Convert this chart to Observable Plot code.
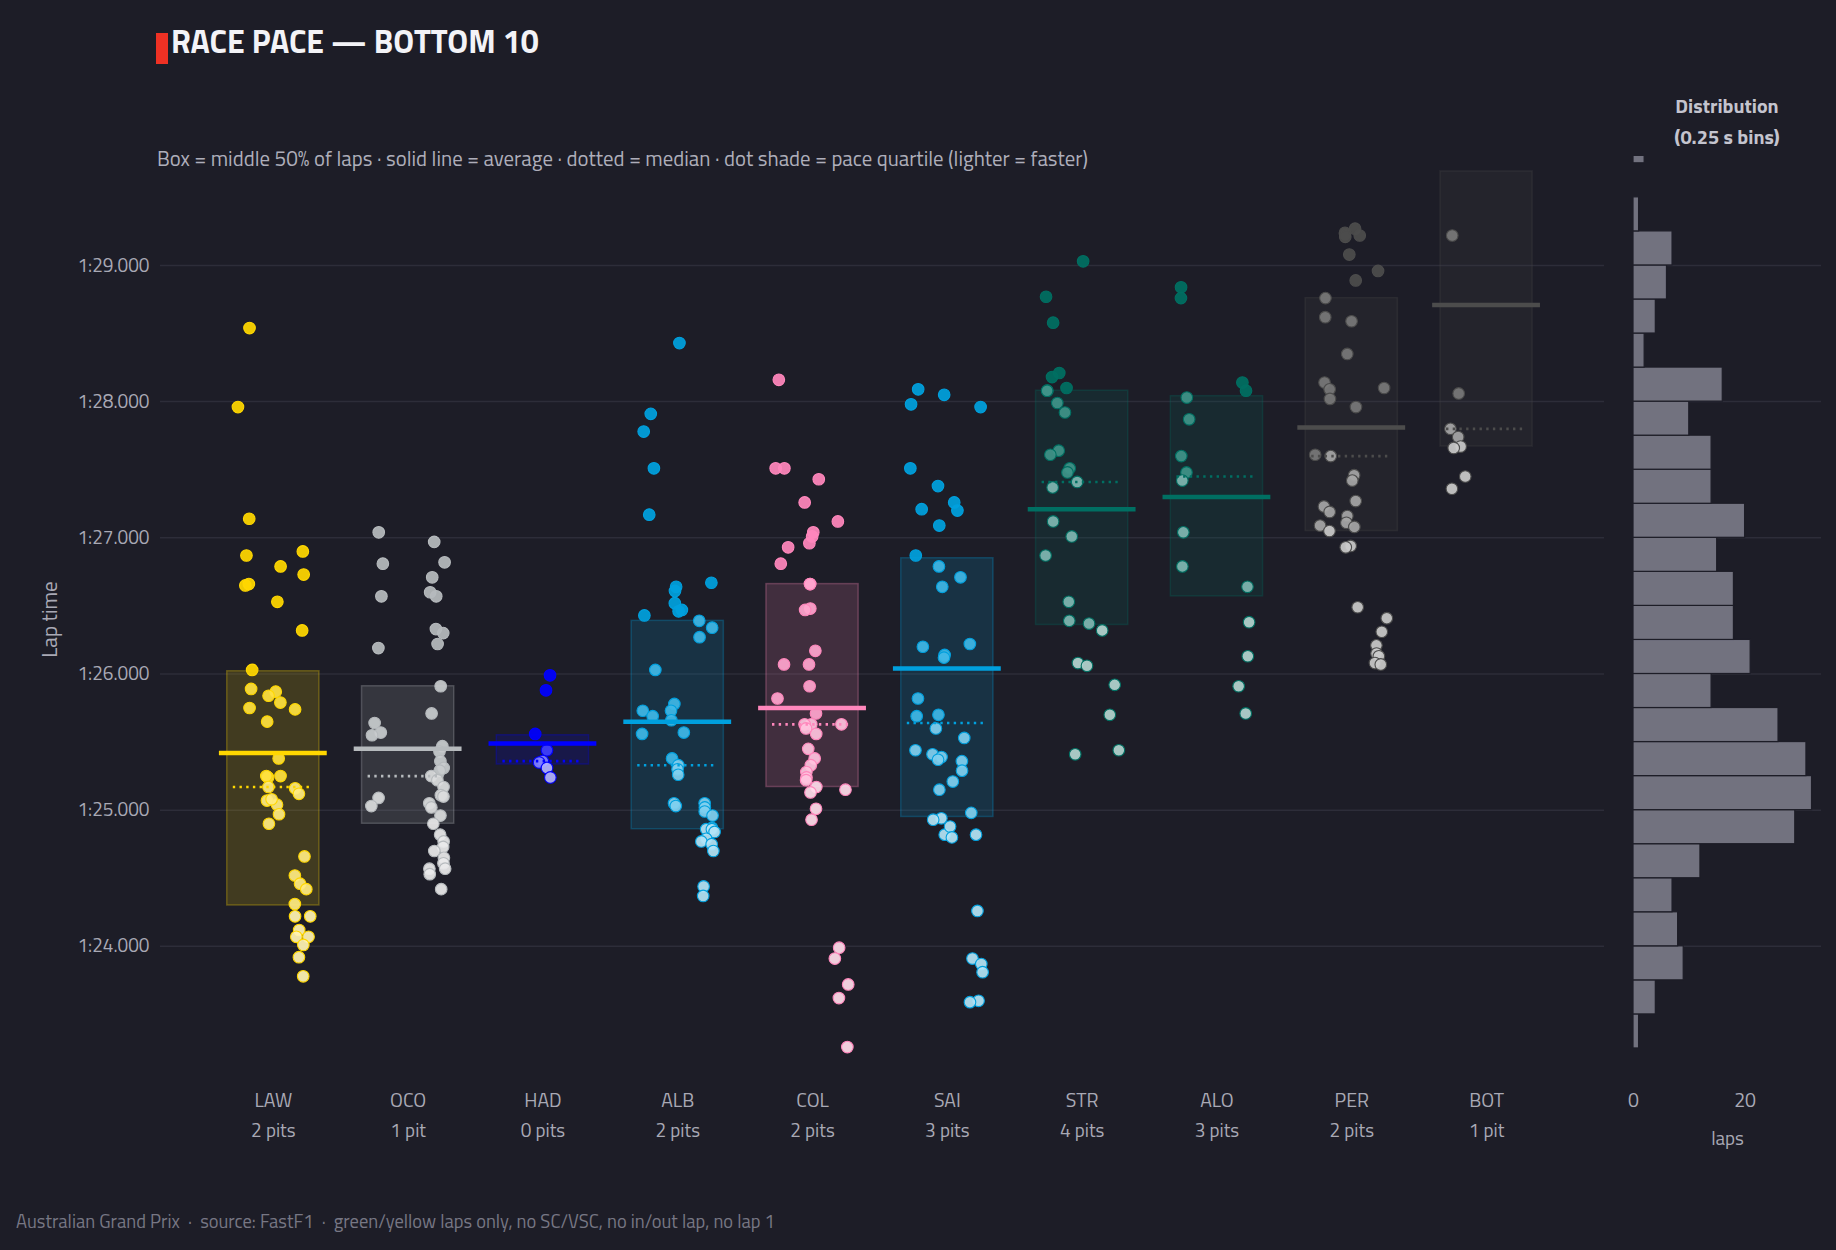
<!DOCTYPE html>
<html lang="en">
<head>
<meta charset="utf-8">
<title>Race pace — bottom 10</title>
<script src="https://cdn.jsdelivr.net/npm/d3@7"></script>
<script src="https://cdn.jsdelivr.net/npm/@observablehq/plot@0.6"></script>
<style>
  html, body { margin: 0; background: #1d1d27; }
  #page { position: relative; width: 1836px; height: 1250px; background: #1d1d27; overflow: hidden;
          font-family: "Titillium Web", "Liberation Sans Narrow", "Roboto Condensed", "Noto Sans", sans-serif; }
  #main { position: absolute; left: 0; top: 0; }
  #hist { position: absolute; left: 1604px; top: 0; }
  #title-bar { position: absolute; left: 156px; top: 33px; width: 12px; height: 31px; background: #ee3124; }
  #title { position: absolute; left: 171px; top: 21px; font-size: 32px; font-weight: 700; color: #f3f3f7; line-height: 40px; white-space: nowrap; }
  #subtitle { position: absolute; left: 157px; top: 146px; font-size: 20.8px; color: #aeaeba; line-height: 24px; white-space: nowrap; }
  #dist { position: absolute; left: 1627px; width: 200px; top: 90px; text-align: center; font-size: 20px; font-weight: 700; color: #c4c4ce; line-height: 31px; }
  #footer { position: absolute; left: 16px; top: 1209px; font-size: 18.5px; color: #777784; white-space: pre; line-height: 24px; }
</style>
</head>
<body>
<div id="page">
  <div id="main"></div>
  <div id="hist"></div>
  <div id="title-bar"></div>
  <div id="title">RACE PACE — BOTTOM 10</div>
  <div id="subtitle">Box = middle 50% of laps · solid line = average · dotted = median · dot shade = pace quartile (lighter = faster)</div>
  <div id="dist">Distribution<br>(0.25 s bins)</div>
  <div id="footer">Australian Grand Prix  ·  source: FastF1  ·  green/yellow laps only, no SC/VSC, no in/out lap, no lap 1</div>
</div>
<script>
// ---- drivers (slowest ten by race pace) ----
const drivers    = ["LAW", "OCO", "HAD", "ALB", "COL", "SAI", "STR", "ALO", "PER", "BOT"];
const pitStops   = [2, 1, 0, 2, 2, 3, 4, 3, 2, 1];
const teamColors = ["#ffd700", "#b6babd", "#0000ff", "#00a0de", "#ff87bc",
                    "#00a0de", "#006f62", "#006f62", "#4c4c4c", "#4c4c4c"];

// ---- clean lap times in seconds, grouped by stint ----
const stintsLAW = [
  [88.54, 87.96, 87.14, 86.87, 86.66, 86.65, 86.03, 85.89, 85.75],
  [86.79, 86.53, 85.87, 85.84, 85.79, 85.65, 85.38, 85.24, 85.25, 85.25, 85.17, 85.04, 85.07, 85.08, 84.97, 84.90],
  [86.90, 86.73, 86.32, 85.74, 85.16, 85.12, 84.66, 84.52, 84.46, 84.42, 84.31, 84.22, 84.22, 84.12, 84.07, 84.07, 84.01, 83.92, 83.78]
];
const stintsOCO = [
  [87.04, 86.81, 86.57, 86.19, 85.64, 85.57, 85.55, 85.09, 85.03],
  [86.97, 86.82, 86.71, 86.60, 86.57, 86.33, 86.30, 86.22, 85.91, 85.71, 85.47, 85.43, 85.36, 85.31, 85.29, 85.25, 85.22,
   85.17, 85.11, 85.10, 85.05, 85.02, 84.96, 84.90, 84.82, 84.77, 84.73, 84.70, 84.65, 84.61, 84.57, 84.57, 84.53, 84.42]
];
const stintsHAD = [
  [85.99, 85.88, 85.56, 85.44, 85.36, 85.35, 85.31, 85.24]
];
const stintsALB = [
  [87.91, 87.78, 87.51, 87.17, 86.43, 86.03, 85.73, 85.69, 85.56],
  [88.43, 86.64, 86.61, 86.52, 86.47, 86.46, 85.78, 85.73, 85.66, 85.57, 85.38, 85.33, 85.30, 85.26, 85.05, 85.03],
  [86.67, 86.39, 86.34, 86.27, 85.05, 85.02, 84.99, 84.96, 84.87, 84.86, 84.86, 84.84, 84.79, 84.77, 84.75, 84.70, 84.44, 84.37]
];
const stintsCOL = [
  [88.16, 87.51, 87.51, 86.93, 86.81, 86.07, 85.82],
  [87.43, 87.26, 87.04, 87.01, 86.96, 86.66, 86.66, 86.48, 86.47, 86.17, 86.07, 85.91, 85.71, 85.63, 85.63, 85.60, 85.56,
   85.45, 85.38, 85.33, 85.28, 85.24, 85.22, 85.17, 85.13, 85.01, 84.93],
  [87.12, 85.63, 85.15, 83.99, 83.91, 83.72, 83.62, 83.26]
];
const stintsSAI = [
  [88.09, 87.98, 87.51, 87.21, 86.87, 86.20, 85.82, 85.69, 85.44],
  [88.05, 87.38, 87.09, 86.79, 86.64, 86.14, 86.12, 85.70, 85.60, 85.41, 85.39, 85.37, 85.15, 84.94, 84.93, 84.82],
  [87.26, 87.20, 86.71, 85.53, 85.36, 85.29, 85.21, 84.88, 84.80],
  [87.96, 86.22, 84.98, 84.82, 84.26, 83.91, 83.87, 83.81, 83.60, 83.59]
];
const stintsSTR = [
  [88.77, 88.58, 88.21, 88.18, 88.08, 88.08, 87.99, 87.64, 87.61, 87.37, 87.12, 86.87],
  [88.10, 87.92, 87.51, 87.48, 87.01, 86.53, 86.39],
  [89.03, 87.41, 86.37, 86.08, 86.06, 85.41],
  [86.32],
  [85.92, 85.70, 85.44]
];
const stintsALO = [
  [88.84, 88.76, 88.03, 87.87, 87.60, 87.48, 87.42, 87.04, 86.79],
  [],
  [],
  [88.14, 88.08, 86.64, 86.38, 86.13, 85.91, 85.71]
];
const stintsPER = [
  [88.76, 88.62, 88.14, 88.09, 88.02, 87.61, 87.60, 87.23, 87.19, 87.09, 87.05],
  [89.27, 89.24, 89.23, 89.22, 89.21, 89.08, 88.89, 88.59, 88.35, 87.96, 87.46, 87.42, 87.27, 87.16, 87.11, 87.08, 86.94, 86.93, 86.49],
  [88.96, 88.10, 86.41, 86.31, 86.21, 86.15, 86.13, 86.08, 86.07]
];
const stintsBOT = [
  [89.22, 88.06, 87.80, 87.74, 87.67, 87.66, 87.45, 87.36],
  []
];

// ---- per-driver summary (seconds) ----
const q1Times     = [84.30, 84.90, 85.335, 84.86, 85.17, 84.95, 86.36, 86.57, 87.05, 87.67];
const medianTimes = [85.17, 85.25, 85.36, 85.33, 85.63, 85.64, 87.41, 87.45, 87.60, 87.80];
const q3Times     = [86.02, 85.91, 85.55, 86.39, 86.66, 86.85, 88.08, 88.04, 88.76, 89.69];
const meanTimes   = [85.42, 85.45, 85.49, 85.65, 85.75, 86.04, 87.21, 87.30, 87.81, 88.71];

// ---- all-driver lap histogram, 0.25 s bins (lower edge, lap count) ----
const binLow  = [83.25, 83.50, 83.75, 84.00, 84.25, 84.50, 84.75, 85.00, 85.25, 85.50, 85.75, 86.00, 86.25, 86.50,
                 86.75, 87.00, 87.25, 87.50, 87.75, 88.00, 88.25, 88.50, 88.75, 89.00, 89.25, 89.50, 89.75];
const binLaps = [1, 4, 9, 8, 7, 12, 29, 32, 31, 26, 14, 21, 18, 18,
                 15, 20, 14, 14, 10, 16, 2, 4, 6, 7, 1, 0, 2];

const yTicks = [84, 85, 86, 87, 88, 89];

// ---------------------------------------------------------------
const FONT = '"Titillium Web", "Liberation Sans Narrow", "Roboto Condensed", "Noto Sans", sans-serif';
const BG = "#1d1d27";
const GRID = "#2d2d39";
const INK = "#a9a9b5";

const lapTimes = [stintsLAW, stintsOCO, stintsHAD, stintsALB, stintsCOL,
                  stintsSAI, stintsSTR, stintsALO, stintsPER, stintsBOT];

const fmtLap = v => {
  const m = Math.floor(v / 60);
  const s = v - m * 60;
  return `${m}:${s.toFixed(3).padStart(6, "0")}`;
};

// quartile shade: slowest quarter in full team colour, faster quarters lighter
const shade = (i, t) => {
  const f = t <= q1Times[i] ? 0.7 : t <= medianTimes[i] ? 0.5 : t <= q3Times[i] ? 0.25 : 0;
  return d3.interpolateRgb(teamColors[i], "#ffffff")(f);
};

// stable pseudo-random jitter so the strip layout is identical on every load
const jitter = k => { const s = Math.sin(k * 127.1 + 311.7) * 43758.5453; return s - Math.floor(s); };

// each stint gets its own column inside the driver's slot
const rows = [];
let k = 0;
lapTimes.forEach((stints, i) => {
  const n = stints.length;
  stints.forEach((times, s) => {
    const col = n === 1 ? 0 : (s / (n - 1) - 0.5) * 0.43;
    times.forEach(t => {
      rows.push({i, t, pos: i + col + (jitter(k++) - 0.5) * 0.12});
    });
  });
});

const idx = d3.range(drivers.length);
const pitLabel = i => `${pitStops[i]} ${pitStops[i] === 1 ? "pit" : "pits"}`;

const main = Plot.plot({
  width: 1620,
  height: 1250,
  marginTop: 156,
  marginBottom: 168,
  marginLeft: 160,
  marginRight: 16,
  style: {background: "transparent", fontFamily: FONT, color: INK, overflow: "visible"},
  x: {type: "linear", domain: [-0.837, 9.875], axis: null},
  y: {domain: [83, 89.8], axis: null},
  color: {type: "identity"},
  marks: [
    Plot.gridY(yTicks, {stroke: GRID, strokeOpacity: 1, strokeWidth: 1.5}),
    Plot.text(yTicks, {y: d => d, frameAnchor: "left", dx: -11, textAnchor: "end",
                       text: fmtLap, fontSize: 19, fill: INK}),
    Plot.text(["Lap time"], {frameAnchor: "left", dx: -110, rotate: -90, textAnchor: "middle",
                             fontSize: 21, fill: INK}),
    // interquartile boxes
    Plot.rect(idx, {
      x1: i => i - 0.342, x2: i => i + 0.342,
      y1: i => q1Times[i], y2: i => q3Times[i],
      fill: i => teamColors[i], fillOpacity: 0.16,
      stroke: i => teamColors[i], strokeOpacity: 0.28, strokeWidth: 1.5
    }),
    // individual laps
    Plot.dot(rows, {
      x: "pos", y: "t", r: 5.8,
      fill: d => shade(d.i, d.t), fillOpacity: 0.93,
      stroke: d => teamColors[d.i], strokeWidth: 1.1,
      clip: true
    }),
    // average
    Plot.ruleY(idx, {
      y: i => meanTimes[i], x1: i => i - 0.4, x2: i => i + 0.4,
      stroke: i => teamColors[i], strokeWidth: 4.5
    }),
    // median
    Plot.ruleY(idx, {
      y: i => medianTimes[i], x1: i => i - 0.297, x2: i => i + 0.297,
      stroke: i => teamColors[i], strokeWidth: 2.6, strokeDasharray: "2.4 4.3"
    }),
    Plot.text(idx, {x: i => i, frameAnchor: "bottom", dy: 24, text: i => drivers[i], fontSize: 19.5, fill: INK}),
    Plot.text(idx, {x: i => i, frameAnchor: "bottom", dy: 54, text: pitLabel, fontSize: 19, fill: INK})
  ]
});
document.getElementById("main").append(main);

const binIdx = d3.range(binLow.length);
const hist = Plot.plot({
  width: 232,
  height: 1250,
  marginTop: 156,
  marginBottom: 168,
  marginLeft: 29,
  marginRight: 15,
  style: {background: "transparent", fontFamily: FONT, color: INK, overflow: "visible"},
  x: {domain: [0, 33.7], axis: null},
  y: {domain: [83, 89.8], axis: null},
  marks: [
    Plot.gridY(yTicks, {stroke: GRID, strokeOpacity: 1, strokeWidth: 1.5}),
    Plot.rectX(binIdx, {
      x1: 0, x2: j => binLaps[j],
      y1: j => binLow[j], y2: j => binLow[j] + 0.25,
      fill: "#72727f", stroke: BG, strokeWidth: 1.2,
      clip: true
    }),
    Plot.text([0, 20], {x: d => d, frameAnchor: "bottom", dy: 24, text: d => String(d), fontSize: 19.5, fill: INK}),
    Plot.text(["laps"], {frameAnchor: "bottom", dy: 62, fontSize: 19, fill: INK})
  ]
});
document.getElementById("hist").append(hist);
</script>
</body>
</html>
